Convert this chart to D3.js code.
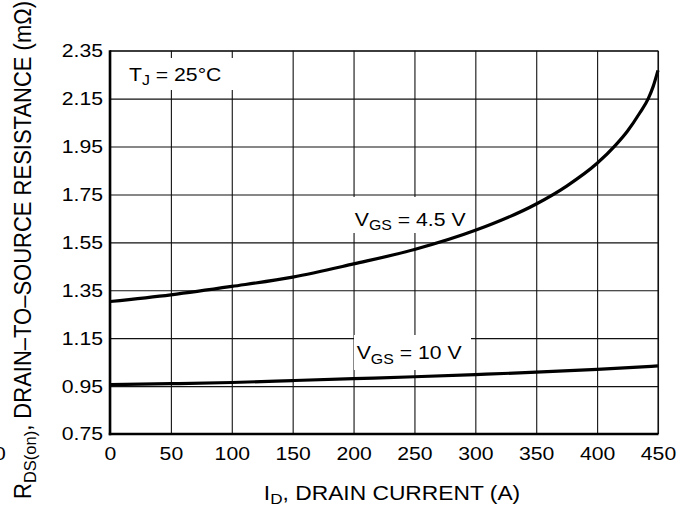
<!DOCTYPE html>
<html>
<head>
<meta charset="utf-8">
<script src="https://cdn.jsdelivr.net/npm/d3@7"></script>
<style>
    body { margin: 0; background: #fff; }
    text { font-family: "Liberation Sans", Arial, Helvetica, sans-serif; fill: #000; }
</style>
</head>
<body>
<div id="chart"></div>
<script>
// Data

// I_D, drain current (A)
const currentVgs45 = [0, 50, 100, 150, 200, 250, 300, 350, 375, 400, 415, 425, 435, 442, 446, 450];
// R_DS(on) (mOhm) at V_GS = 4.5 V
const resistanceVgs45 = [1.303, 1.331, 1.366, 1.405, 1.46, 1.52, 1.60, 1.71, 1.785, 1.88, 1.955, 2.015, 2.09, 2.15, 2.2, 2.268];

const currentVgs10 = [0, 50, 100, 150, 200, 250, 300, 350, 400, 450];
// R_DS(on) (mOhm) at V_GS = 10 V
const resistanceVgs10 = [0.956, 0.960, 0.965, 0.973, 0.981, 0.989, 0.998, 1.008, 1.02, 1.034];

const xTicks = [0, 50, 100, 150, 200, 250, 300, 350, 400, 450];
const yTicks = [0.75, 0.95, 1.15, 1.35, 1.55, 1.75, 1.95, 2.15, 2.35];

// Layout

let WIDTH = 682,
    HEIGHT = 508,
    LEFT = 110,
    RIGHT = 658,
    TOP = 50.7,
    BOTTOM = 434,
    FONT = 18.6,
    SX = 1.14      // the reference glyphs are a bit wider than tall
;

let svg = d3.select('#chart')
    .append('svg')
    .attr('width', WIDTH)
    .attr('height', HEIGHT);

let x = d3.scaleLinear().domain([0, 450]).range([LEFT, RIGHT]);
let y = d3.scaleLinear().domain([0.75, 2.35]).range([BOTTOM, TOP]);

// Grid lines

svg.append('g')
    .attr('transform', `translate(0,${BOTTOM})`)
    .call(d3.axisBottom(x).tickValues(xTicks).tickSize(-(BOTTOM - TOP)).tickFormat(''))
    .call(g => g.select('.domain').remove())
    .selectAll('line')
    .attr('stroke', '#111')
    .attr('stroke-width', 1.1);

svg.append('g')
    .attr('transform', `translate(${LEFT},0)`)
    .call(d3.axisLeft(y).tickValues(yTicks).tickSize(-(RIGHT - LEFT)).tickFormat(''))
    .call(g => g.select('.domain').remove())
    .selectAll('line')
    .attr('stroke', '#111')
    .attr('stroke-width', 1.1);

// Annotation boxes hide the grid under the labels

let annotations = [
    {x: 15.6, y: 2.224, box: [120, 58, 234, 90], sub: 'J', pre: 'T', post: ' = 25\u00B0C'},
    {x: 201, y: 1.619, box: [351, 197, 470, 233], sub: 'GS', pre: 'V', post: ' = 4.5 V'},
    {x: 202.6, y: 1.061, box: [354, 335, 471, 370], sub: 'GS', pre: 'V', post: ' = 10 V'}
];

svg.selectAll('.label-box')
    .data(annotations)
    .enter()
    .append('rect')
    .classed('label-box', true)
    .attr('x', d => d.box[0])
    .attr('y', d => d.box[1])
    .attr('width', d => d.box[2] - d.box[0])
    .attr('height', d => d.box[3] - d.box[1])
    .attr('fill', '#fff');

// Curves

let line = d3.line()
    .x(d => x(d[0]))
    .y(d => y(d[1]))
    .curve(d3.curveMonotoneX);

let curves = [
    d3.zip(currentVgs45, resistanceVgs45),
    d3.zip(currentVgs10, resistanceVgs10)
];

svg.selectAll('.curve')
    .data(curves)
    .enter()
    .append('path')
    .classed('curve', true)
    .attr('d', line)
    .attr('fill', 'none')
    .attr('stroke', '#000')
    .attr('stroke-width', 3.2);

// Frame: thick left and bottom axis, thin top and right

svg.append('line')
    .attr('x1', LEFT).attr('x2', RIGHT).attr('y1', TOP).attr('y2', TOP)
    .attr('stroke', '#111').attr('stroke-width', 1.1);
svg.append('line')
    .attr('x1', RIGHT).attr('x2', RIGHT).attr('y1', TOP).attr('y2', BOTTOM)
    .attr('stroke', '#111').attr('stroke-width', 1.1);
svg.append('line')
    .attr('x1', LEFT).attr('x2', LEFT).attr('y1', TOP - 0.5).attr('y2', BOTTOM + 1.2)
    .attr('stroke', '#000').attr('stroke-width', 2.6);
svg.append('line')
    .attr('x1', LEFT - 1.2).attr('x2', RIGHT + 0.5).attr('y1', BOTTOM).attr('y2', BOTTOM)
    .attr('stroke', '#000').attr('stroke-width', 2.6);

// Tick labels

let xAxis = svg.append('g')
    .attr('transform', `translate(0,${BOTTOM})`)
    .call(d3.axisBottom(x).tickValues(xTicks).tickSize(0).tickPadding(13).tickFormat(d3.format('d')));
xAxis.select('.domain').remove();
xAxis.selectAll('text')
    .style('font-size', FONT + 'px')
    .attr('transform', `scale(${SX},1)`);

let yAxis = svg.append('g')
    .attr('transform', `translate(${LEFT},0)`)
    .call(d3.axisLeft(y).tickValues(yTicks).tickSize(0).tickPadding(7 / SX).tickFormat(d3.format('.2f')));
yAxis.select('.domain').remove();
yAxis.selectAll('text')
    .style('font-size', FONT + 'px')
    .attr('transform', `scale(${SX},1)`);

// Annotation texts

let ann = svg.selectAll('.annotation')
    .data(annotations)
    .enter()
    .append('text')
    .classed('annotation', true)
    .attr('transform', d => `translate(${x(d.x)},${y(d.y)}) scale(${SX},1)`)
    .style('font-size', FONT + 'px');
ann.append('tspan').text(d => d.pre);
ann.append('tspan').attr('dy', 4).style('font-size', (FONT * 0.75) + 'px').text(d => d.sub);
ann.append('tspan').attr('dy', -4).text(d => d.post);

// Axis titles

let xTitle = svg.append('text')
    .attr('transform', `translate(392,500) scale(${SX},1)`)
    .attr('text-anchor', 'middle')
    .style('font-size', '20px');
xTitle.append('tspan').text('I');
xTitle.append('tspan').attr('dy', 4).style('font-size', '15px').text('D');
xTitle.append('tspan').attr('dy', -4).text(', DRAIN CURRENT (A)');

let yTitle = svg.append('text')
    .attr('transform', `translate(31,250) rotate(-90) scale(1,1.05)`)
    .attr('text-anchor', 'middle')
    .style('font-size', '22px');
yTitle.append('tspan').text('R');
yTitle.append('tspan').attr('dy', 4.5).style('font-size', '16.5px').text('DS(on)');
yTitle.append('tspan').attr('dy', -4.5).text(', DRAIN\u2013TO\u2013SOURCE RESISTANCE (m\u03A9)');

// Clipped digit at the left edge of the reference
svg.append('text')
    .attr('transform', `translate(-6,460) scale(${SX},1)`)
    .style('font-size', FONT + 'px')
    .text('0');
</script>
</body>
</html>
